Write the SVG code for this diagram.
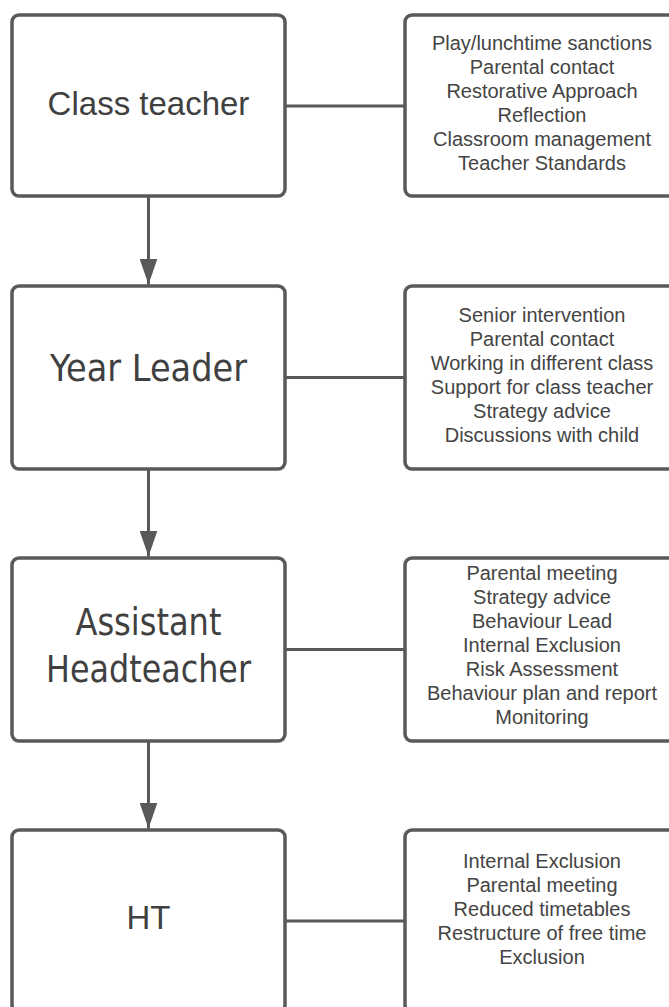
<svg xmlns="http://www.w3.org/2000/svg" width="669" height="1007" viewBox="0 0 669 1007">
<style>
.box{fill:#ffffff;stroke:#595959;stroke-width:3.5}
.conn{stroke:#595959;stroke-width:3;fill:none}
.title{font-family:"Liberation Sans",Arial,sans-serif;font-size:33px;fill:#404040;text-anchor:middle}
.title2{font-family:"DejaVu Sans",Verdana,sans-serif;font-size:37px;fill:#404040;text-anchor:middle}
.item{font-family:"Liberation Sans",Arial,sans-serif;font-size:20px;fill:#444444;text-anchor:middle}
</style>
<defs>
<marker id="arrow" viewBox="0 0 26 18" refX="26" refY="9" markerWidth="26" markerHeight="18" markerUnits="userSpaceOnUse" orient="auto">
<path d="M0,0 L26,9 L0,18 z" fill="#595959"/>
</marker>
</defs>
<rect width="669" height="1007" fill="#ffffff"/>
<g id="connectors">
<line class="conn" x1="148.5" y1="196" x2="148.5" y2="284.5" marker-end="url(#arrow)"/>
<line class="conn" x1="148.5" y1="469" x2="148.5" y2="556.5" marker-end="url(#arrow)"/>
<line class="conn" x1="148.5" y1="741" x2="148.5" y2="828.5" marker-end="url(#arrow)"/>
<line class="conn" x1="285" y1="106" x2="405" y2="106"/>
<line class="conn" x1="285" y1="377.5" x2="405" y2="377.5"/>
<line class="conn" x1="285" y1="649.5" x2="405" y2="649.5"/>
<line class="conn" x1="285" y1="921" x2="405" y2="921"/>
</g>
<g id="class-teacher">
<rect class="box" x="12" y="15" width="273" height="181" rx="7"/>
<text class="title" x="148.5" y="115">Class teacher</text>
</g>
<g id="class-teacher-actions">
<rect class="box" x="405" y="15" width="274" height="181" rx="7"/>
<text class="item" x="542" y="49.5">Play/lunchtime sanctions</text>
<text class="item" x="542" y="73.5">Parental contact</text>
<text class="item" x="542" y="97.5">Restorative Approach</text>
<text class="item" x="542" y="121.5">Reflection</text>
<text class="item" x="542" y="145.5">Classroom management</text>
<text class="item" x="542" y="169.5">Teacher Standards</text>
</g>
<g id="year-leader">
<rect class="box" x="12" y="286" width="273" height="183" rx="7"/>
<text class="title2" x="148.5" y="381" textLength="197" lengthAdjust="spacingAndGlyphs">Year Leader</text>
</g>
<g id="year-leader-actions">
<rect class="box" x="405" y="286" width="274" height="183" rx="7"/>
<text class="item" x="542" y="321.5">Senior intervention</text>
<text class="item" x="542" y="345.5">Parental contact</text>
<text class="item" x="542" y="369.5">Working in different class</text>
<text class="item" x="542" y="393.5">Support for class teacher</text>
<text class="item" x="542" y="417.5">Strategy advice</text>
<text class="item" x="542" y="441.5">Discussions with child</text>
</g>
<g id="assistant-headteacher">
<rect class="box" x="12" y="558" width="273" height="183" rx="7"/>
<text class="title2" x="148.5" y="635" textLength="146" lengthAdjust="spacingAndGlyphs">Assistant</text>
<text class="title2" x="148.5" y="682" textLength="205" lengthAdjust="spacingAndGlyphs">Headteacher</text>
</g>
<g id="assistant-headteacher-actions">
<rect class="box" x="405" y="558" width="274" height="183" rx="7"/>
<text class="item" x="542" y="580">Parental meeting</text>
<text class="item" x="542" y="604">Strategy advice</text>
<text class="item" x="542" y="628">Behaviour Lead</text>
<text class="item" x="542" y="652">Internal  Exclusion</text>
<text class="item" x="542" y="676">Risk Assessment</text>
<text class="item" x="542" y="700">Behaviour plan and report</text>
<text class="item" x="542" y="724">Monitoring</text>
</g>
<g id="ht">
<rect class="box" x="12" y="830" width="273" height="182" rx="7"/>
<text class="title" x="148.5" y="929" font-size="32">HT</text>
</g>
<g id="ht-actions">
<rect class="box" x="405" y="830" width="274" height="182" rx="7"/>
<text class="item" x="542" y="867.5">Internal  Exclusion</text>
<text class="item" x="542" y="891.5">Parental meeting</text>
<text class="item" x="542" y="915.5">Reduced timetables</text>
<text class="item" x="542" y="939.5">Restructure of free time</text>
<text class="item" x="542" y="963.5">Exclusion</text>
</g>
</svg>
